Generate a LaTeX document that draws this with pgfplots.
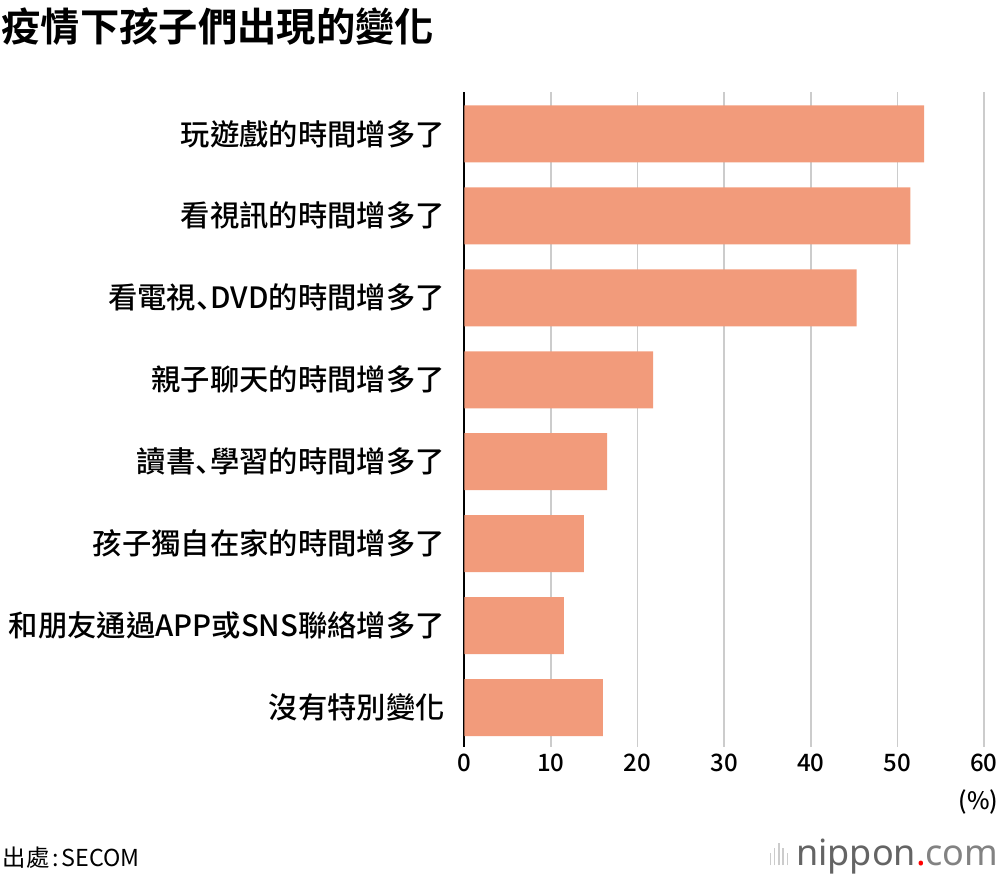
\documentclass[border=0pt]{standalone}
\usepackage{pgfplots}
\pgfplotsset{compat=1.18}
\usepackage{fontspec}
\setmainfont{Noto Sans CJK TC}[UprightFont={* Medium}, BoldFont={* Bold}]
\newfontfamily\srcfont{Noto Sans CJK TC}
\newfontfamily\jpfont{Noto Sans CJK JP}[UprightFont={* Medium}]
\newfontfamily\logofont{Noto Sans}
\definecolor{barc}{RGB}{242,155,123}
\definecolor{gridc}{RGB}{204,204,204}
\definecolor{logogray}{RGB}{100,100,100}
\definecolor{logolight}{RGB}{130,130,130}
\newcommand{\dun}{{\jpfont 、}\hspace{-0.5em}}
\begin{document}
\begin{tikzpicture}
\useasboundingbox (0pt,0pt) rectangle (750pt,657pt);
\begin{axis}[
  at={(348.2pt,96.75pt)}, anchor=south west,
  scale only axis, width=389.8pt, height=491.25pt,
  xbar, bar width=42.75pt,
  xmin=0, xmax=60, ymin=-0.51, ymax=7.48, y dir=reverse,
  xtick={10,20,...,60},
  extra x ticks={0},
  extra x tick style={grid style={black, line width=1.2pt}},
  ytick={0,...,7},
  yticklabels={玩遊戲的時間增多了,看視訊的時間增多了,看電視\dun DVD的時間增多了,親子聊天的時間增多了,讀書\dun 學習的時間增多了,孩子獨自在家的時間增多了,和朋友通過APP或SNS聯絡增多了,沒有特別變化},
  axis line style={draw=none},
  xmajorgrids, grid style={gridc, line width=1.2pt},
  major tick length=0pt,
  y tick label style={font=\fontsize{22}{23}\selectfont, xshift=-11pt, anchor=east},
  x tick label style={font=\fontsize{18}{19}\selectfont, yshift=-2pt},
  /pgf/number format/assume math mode=true,
  clip=false,
]
\addplot[draw=none, fill=barc] coordinates {
(53.1,0) (51.5,1) (45.3,2) (21.8,3) (16.5,4) (13.8,5) (11.5,6) (16.0,7)};
\end{axis}
\node[anchor=base west, inner sep=0pt, font=\fontsize{29.5}{31}\bfseries] at (1pt,626pt) {疫情下孩子們出現的變化};
\node[anchor=base east, inner sep=0pt, font=\fontsize{18}{19}\selectfont] at (749pt,50pt) {(\%)};
\node[anchor=base west, inner sep=0pt, font=\srcfont\fontsize{17.5}{18}\selectfont] at (2pt,7pt) {出處\hspace{2pt}:\hspace{2pt}SECOM};
\node[anchor=base east, inner sep=0pt, font=\logofont\fontsize{27}{28}\selectfont] at (749pt,8pt)
  {\textcolor{gridc}{\rule{1.2pt}{9pt}\hspace{2pt}\rule{1.2pt}{13pt}\hspace{2pt}\rule{1.2pt}{17pt}\hspace{2pt}\rule{1.2pt}{13pt}\hspace{2pt}\rule{1.2pt}{9pt}}\hspace{6pt}\textcolor{logogray}{\bfseries nippon}\textcolor{red}{.}\textcolor{logolight}{com}};
\end{tikzpicture}
\end{document}
